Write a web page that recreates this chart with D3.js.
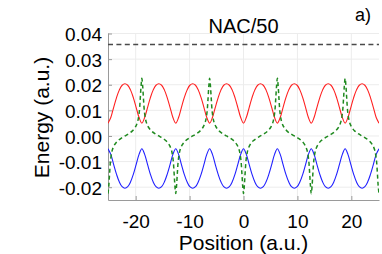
<!DOCTYPE html>
<html>
<head>
<meta charset="utf-8">
<script src="https://cdn.jsdelivr.net/npm/d3@7"></script>
<style>
    body { margin: 0; background: #fff; }
    svg { display: block; font-family: "Liberation Sans", Arial, sans-serif; }
    .grid line { stroke: #ececec; stroke-width: 1; }
    .axis path, .axis line { stroke: #9a9a9a; }
    .axis text { fill: #000; font-size: 19px; }
</style>
</head>
<body>
<svg width="382" height="254"></svg>
<script>
// Sample positions for the two adiabatic energies (every pi/6).
var pos = [-25.13, -24.61, -24.09, -23.56, -23.04, -22.51, -21.99, -21.47, -20.94, -20.42, -19.90, -19.37,
    -18.85, -18.33, -17.80, -17.28, -16.76, -16.23, -15.71, -15.18, -14.66, -14.14, -13.61, -13.09,
    -12.57, -12.04, -11.52, -11.00, -10.47, -9.95, -9.42, -8.90, -8.38, -7.85, -7.33, -6.81,
    -6.28, -5.76, -5.24, -4.71, -4.19, -3.67, -3.14, -2.62, -2.09, -1.57, -1.05, -0.52,
    0, 0.52, 1.05, 1.57, 2.09, 2.62, 3.14, 3.67, 4.19, 4.71, 5.24, 5.76,
    6.28, 6.81, 7.33, 7.85, 8.38, 8.90, 9.42, 9.95, 10.47, 11.00, 11.52, 12.04,
    12.57, 13.09, 13.61, 14.14, 14.66, 15.18, 15.71, 16.23, 16.76, 17.28, 17.80, 18.33,
    18.85, 19.37, 19.90, 20.42, 20.94, 21.47, 21.99, 22.51, 23.04, 23.56, 24.09, 24.61, 25.13];

// Upper state (red).
var upper = [0.0050, 0.0072, 0.0111, 0.0149, 0.0179, 0.0198, 0.0204, 0.0198, 0.0179, 0.0149, 0.0111, 0.0072,
    0.0050, 0.0072, 0.0111, 0.0149, 0.0179, 0.0198, 0.0204, 0.0198, 0.0179, 0.0149, 0.0111, 0.0072,
    0.0050, 0.0072, 0.0111, 0.0149, 0.0179, 0.0198, 0.0204, 0.0198, 0.0179, 0.0149, 0.0111, 0.0072,
    0.0050, 0.0072, 0.0111, 0.0149, 0.0179, 0.0198, 0.0204, 0.0198, 0.0179, 0.0149, 0.0111, 0.0072,
    0.0050, 0.0072, 0.0111, 0.0149, 0.0179, 0.0198, 0.0204, 0.0198, 0.0179, 0.0149, 0.0111, 0.0072,
    0.0050, 0.0072, 0.0111, 0.0149, 0.0179, 0.0198, 0.0204, 0.0198, 0.0179, 0.0149, 0.0111, 0.0072,
    0.0050, 0.0072, 0.0111, 0.0149, 0.0179, 0.0198, 0.0204, 0.0198, 0.0179, 0.0149, 0.0111, 0.0072,
    0.0050, 0.0072, 0.0111, 0.0149, 0.0179, 0.0198, 0.0204, 0.0198, 0.0179, 0.0149, 0.0111, 0.0072,
    0.0050];

// Lower state (blue).
var lower = [-0.0050, -0.0072, -0.0111, -0.0149, -0.0179, -0.0198, -0.0204, -0.0198, -0.0179, -0.0149, -0.0111, -0.0072,
    -0.0050, -0.0072, -0.0111, -0.0149, -0.0179, -0.0198, -0.0204, -0.0198, -0.0179, -0.0149, -0.0111, -0.0072,
    -0.0050, -0.0072, -0.0111, -0.0149, -0.0179, -0.0198, -0.0204, -0.0198, -0.0179, -0.0149, -0.0111, -0.0072,
    -0.0050, -0.0072, -0.0111, -0.0149, -0.0179, -0.0198, -0.0204, -0.0198, -0.0179, -0.0149, -0.0111, -0.0072,
    -0.0050, -0.0072, -0.0111, -0.0149, -0.0179, -0.0198, -0.0204, -0.0198, -0.0179, -0.0149, -0.0111, -0.0072,
    -0.0050, -0.0072, -0.0111, -0.0149, -0.0179, -0.0198, -0.0204, -0.0198, -0.0179, -0.0149, -0.0111, -0.0072,
    -0.0050, -0.0072, -0.0111, -0.0149, -0.0179, -0.0198, -0.0204, -0.0198, -0.0179, -0.0149, -0.0111, -0.0072,
    -0.0050, -0.0072, -0.0111, -0.0149, -0.0179, -0.0198, -0.0204, -0.0198, -0.0179, -0.0149, -0.0111, -0.0072,
    -0.0050];

// NAC/50 is sampled more densely around the spikes.
var nacPos = [-25.13, -24.98, -24.83, -24.63, -24.33, -23.93, -23.33, -22.63, -21.99,
    -21.35, -20.65, -20.05, -19.65, -19.35, -19.15, -19.00, -18.85, -18.70, -18.55, -18.35, -18.05, -17.65, -17.05, -16.35, -15.71,
    -15.07, -14.37, -13.77, -13.37, -13.07, -12.87, -12.72, -12.57, -12.42, -12.27, -12.07, -11.77, -11.37, -10.77, -10.07, -9.42,
    -8.78, -8.08, -7.48, -7.08, -6.78, -6.58, -6.43, -6.28, -6.13, -5.98, -5.78, -5.48, -5.08, -4.48, -3.78, -3.14,
    -2.50, -1.80, -1.20, -0.80, -0.50, -0.30, -0.15, 0, 0.15, 0.30, 0.50, 0.80, 1.20, 1.80, 2.50, 3.14,
    3.78, 4.48, 5.08, 5.48, 5.78, 5.98, 6.13, 6.28, 6.43, 6.58, 6.78, 7.08, 7.48, 8.08, 8.78, 9.42,
    10.07, 10.77, 11.37, 11.77, 12.07, 12.27, 12.42, 12.57, 12.72, 12.87, 13.07, 13.37, 13.77, 14.37, 15.07, 15.71,
    16.35, 17.05, 17.65, 18.05, 18.35, 18.55, 18.70, 18.85, 19.00, 19.15, 19.35, 19.65, 20.05, 20.65, 21.35, 21.99,
    22.63, 23.33, 23.93, 24.33, 24.63, 24.83, 24.98, 25.13];

var nac = [-0.0225, -0.0195, -0.0145, -0.0090, -0.0055, -0.0035, -0.0019, -0.0008, 0,
    0.0008, 0.0019, 0.0035, 0.0055, 0.0090, 0.0145, 0.0195, 0.0225, 0.0195, 0.0145, 0.0090, 0.0055, 0.0035, 0.0019, 0.0008, 0,
    -0.0008, -0.0019, -0.0035, -0.0055, -0.0090, -0.0145, -0.0195, -0.0225, -0.0195, -0.0145, -0.0090, -0.0055, -0.0035, -0.0019, -0.0008, 0,
    0.0008, 0.0019, 0.0035, 0.0055, 0.0090, 0.0145, 0.0195, 0.0225, 0.0195, 0.0145, 0.0090, 0.0055, 0.0035, 0.0019, 0.0008, 0,
    -0.0008, -0.0019, -0.0035, -0.0055, -0.0090, -0.0145, -0.0195, -0.0225, -0.0195, -0.0145, -0.0090, -0.0055, -0.0035, -0.0019, -0.0008, 0,
    0.0008, 0.0019, 0.0035, 0.0055, 0.0090, 0.0145, 0.0195, 0.0225, 0.0195, 0.0145, 0.0090, 0.0055, 0.0035, 0.0019, 0.0008, 0,
    -0.0008, -0.0019, -0.0035, -0.0055, -0.0090, -0.0145, -0.0195, -0.0225, -0.0195, -0.0145, -0.0090, -0.0055, -0.0035, -0.0019, -0.0008, 0,
    0.0008, 0.0019, 0.0035, 0.0055, 0.0090, 0.0145, 0.0195, 0.0225, 0.0195, 0.0145, 0.0090, 0.0055, 0.0035, 0.0019, 0.0008, 0,
    -0.0008, -0.0019, -0.0035, -0.0055, -0.0090, -0.0145, -0.0195, -0.0225];

// Horizontal dashed reference level.
var refLevel = [0.0357];

var xTicks = [-20, -10, 0, 10, 20];
var xTickLabels = ["-20", "-10", "0", "10", "20"];
var yTicks = [-0.02, -0.01, 0, 0.01, 0.02, 0.03, 0.04];
var yTickLabels = ["-0.02", "-0.01", "0.00", "0.01", "0.02", "0.03", "0.04"];

// Plot box in pixels ("top" is taken by window.top, hence the prefix).
var plotLeft = 108, plotRight = 379, plotTop = 33, plotBottom = 200;

var svg = d3.select("svg");

var x = d3.scaleLinear().domain([-25.13, 25.13]).range([plotLeft, plotRight]);
var y = d3.scaleLinear().domain([-0.025, 0.0402]).range([plotBottom, plotTop]);

svg.append("defs").append("clipPath").attr("id", "plot-clip")
    .append("rect")
    .attr("x", plotLeft).attr("y", plotTop)
    .attr("width", plotRight - plotLeft).attr("height", plotBottom - plotTop);

// Light grid behind everything.
var grid = svg.append("g").attr("class", "grid");
grid.selectAll("line.gx").data(xTicks).enter().append("line")
    .attr("class", "gx")
    .attr("x1", function(d) { return x(d); })
    .attr("x2", function(d) { return x(d); })
    .attr("y1", plotTop).attr("y2", plotBottom);
grid.selectAll("line.gy").data(yTicks).enter().append("line")
    .attr("class", "gy")
    .attr("x1", plotLeft).attr("x2", plotRight)
    .attr("y1", function(d) { return y(d); })
    .attr("y2", function(d) { return y(d); });

// Axes with inward ticks.
svg.append("g")
    .attr("class", "axis")
    .attr("transform", "translate(" + plotLeft + ",0)")
    .call(d3.axisLeft(y)
        .tickValues(yTicks)
        .tickFormat(function(d, i) { return yTickLabels[i]; })
        .tickSize(-4)
        .tickSizeOuter(0)
        .tickPadding(6))
    .selectAll("text").attr("dy", "0.38em");

svg.append("g")
    .attr("class", "axis")
    .attr("transform", "translate(0," + plotBottom + ")")
    .call(d3.axisBottom(x)
        .tickValues(xTicks)
        .tickFormat(function(d, i) { return xTickLabels[i]; })
        .tickSize(-4)
        .tickSizeOuter(0)
        .tickPadding(15));

var plot = svg.append("g").attr("clip-path", "url(#plot-clip)");

plot.selectAll("line.ref").data(refLevel).enter().append("line")
    .attr("class", "ref")
    .attr("x1", plotLeft).attr("x2", plotRight)
    .attr("y1", function(d) { return y(d); })
    .attr("y2", function(d) { return y(d); })
    .attr("stroke", "#4a4a4a")
    .attr("stroke-width", 1.5)
    .attr("stroke-dasharray", "5,3.4");

var line = d3.line()
    .x(function(d) { return x(d[0]); })
    .y(function(d) { return y(d[1]); })
    .curve(d3.curveCatmullRom);

plot.append("path")
    .datum(d3.zip(pos, upper))
    .attr("d", line)
    .attr("fill", "none")
    .attr("stroke", "#ff2020")
    .attr("stroke-width", 1.1);

plot.append("path")
    .datum(d3.zip(pos, lower))
    .attr("d", line)
    .attr("fill", "none")
    .attr("stroke", "#2020ff")
    .attr("stroke-width", 1.1);

plot.append("path")
    .datum(d3.zip(nacPos, nac))
    .attr("d", line)
    .attr("fill", "none")
    .attr("stroke", "#1f8a1f")
    .attr("stroke-width", 1.5)
    .attr("stroke-dasharray", "4,3");

// Title, panel tag and axis labels.
svg.append("text")
    .attr("x", 243.5).attr("y", 33)
    .attr("text-anchor", "middle")
    .attr("font-size", 20)
    .text("NAC/50");

svg.append("text")
    .attr("x", 355).attr("y", 21)
    .attr("font-size", 18)
    .text("a)");

svg.append("text")
    .attr("x", 243.5).attr("y", 250)
    .attr("text-anchor", "middle")
    .attr("font-size", 21)
    .text("Position (a.u.)");

svg.append("text")
    .attr("transform", "translate(49,117.5) rotate(-90)")
    .attr("text-anchor", "middle")
    .attr("font-size", 21)
    .text("Energy (a.u.)");
</script>
</body>
</html>
